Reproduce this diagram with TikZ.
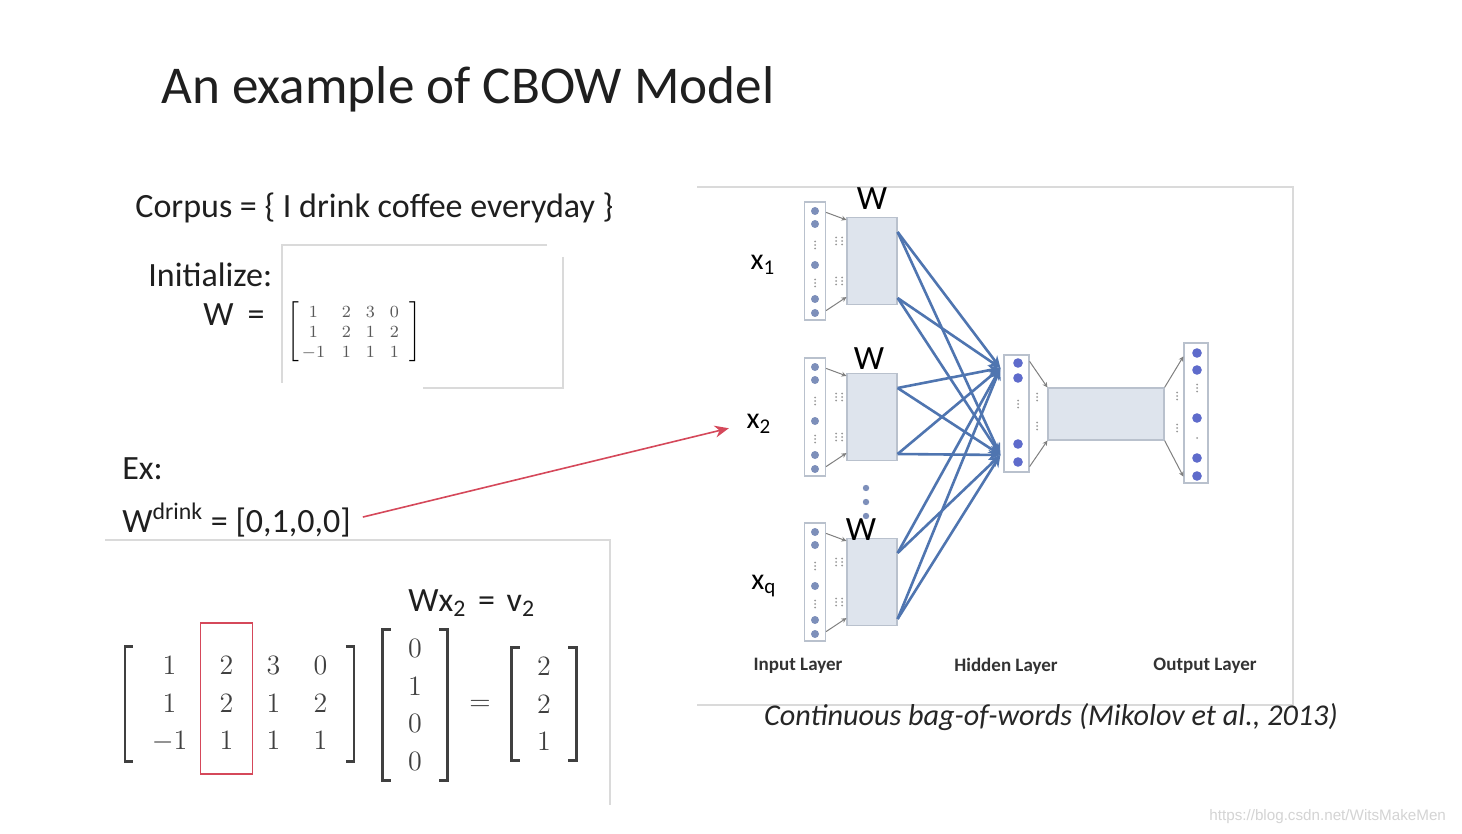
\documentclass[tikz,border=0pt]{standalone}
\usepackage{fix-cm}
\usepackage[no-math]{fontspec}
\setmainfont{Carlito}
\newfontfamily\urlfont{Liberation Sans}
\usetikzlibrary{matrix,fit,arrows.meta,positioning}

\definecolor{netblue}{HTML}{4F75B0}
\definecolor{unitblue}{HTML}{7D8FBA}
\definecolor{boxfill}{HTML}{DEE4ED}
\definecolor{boxline}{HTML}{B9C1CD}
\definecolor{cbowred}{HTML}{D5485A}
\definecolor{framegray}{HTML}{DADADA}

% a short column of dots
\newcommand{\dotcol}[2]{\foreach \d in {-3.5,0,3.5} \fill[black!40] (#1,#2+\d) circle (0.5pt);}
% square brackets round a matrix node: name, left gap, right gap
\newcommand{\matbrackets}[3]{%
  \draw[bracket] ([xshift=-#2+4pt]#1.north west) -| ([xshift=-#2]#1.south west) -- ++(4pt,0);
  \draw[bracket] ([xshift=#3-4pt]#1.north east) -| ([xshift=#3]#1.south east) -- ++(-4pt,0);}

\begin{document}
\begin{tikzpicture}[x=0.5pt, y=-0.5pt,
slidetext/.style={anchor=base west, inner sep=0pt, text=black!88, font=\fontsize{17}{20}\selectfont},
inbox/.style={draw=boxline, fill=white, line width=0.6pt, inner sep=0pt, minimum width=10.5pt, minimum height=59pt},
wbox/.style={draw=boxline, fill=boxfill, line width=0.6pt, inner sep=0pt, minimum width=25pt, minimum height=43.5pt},
fan/.style={draw=black!50, line width=0.5pt, -{Stealth[length=2.5pt,width=2.5pt]}},
link/.style={draw=netblue, line width=1.3pt, -{Stealth[length=6pt,width=5pt]}},
wlabel/.style={font=\fontsize{17}{20}\selectfont, inner sep=0pt},
xlabel/.style={font=\fontsize{15}{18}\selectfont, inner sep=0pt},
layer/.style={font=\bfseries\fontsize{9.5}{11}\selectfont, text=black!80},
frameline/.style={draw=framegray, line width=0.6pt},
bracket/.style={draw=black!75, line width=1.3pt},
numbers/.style={matrix of math nodes, inner sep=0pt,
  nodes={inner sep=0pt, minimum width=23.5pt, minimum height=18.75pt, text=black!75, font=\fontsize{14}{14}\selectfont}},
smallnumbers/.style={matrix of math nodes, inner sep=0pt,
  nodes={inner sep=0pt, minimum width=12pt, minimum height=10pt, text=black!65, font=\fontsize{8.5}{8.5}\selectfont},
  every delimiter/.style={font=\fontsize{8.5}{8.5}\selectfont, text=black!65},
  left delimiter={[}, right delimiter={]}},
]
\fill[white] (0,0) rectangle (1462,834);
\useasboundingbox (0,0) rectangle (1462,834);

%Title and corpus
\node[slidetext, font=\fontsize{26.6}{30}\selectfont] (title) at (161,104) {An example of CBOW Model};
\node[slidetext] (corpus) at (135,218) {Corpus = \{ I drink coffee everyday \}};
\node[slidetext] (init) at (148,287) {Initialize:};
\node[slidetext] (weq) at (203,326) {W\hspace{7pt}=};

%Initial W
\draw[frameline] (547,245) -- (282,245) -- (282,383);
\draw[frameline] (563,257) -- (563,388) -- (423,388);
\matrix (initmat) [smallnumbers] at (354,332) {
1 &[4.5pt] 2 & 3 & 0 \\
1 & 2 & 1 & 2 \\
-1 & 1 & 1 & 1 \\
};

%Example
\node[slidetext] (ex) at (122,479) {Ex:};
\node[slidetext] (wdrink) at (122,532) {W\textsuperscript{drink} = [0,1,0,0]};
\draw[frameline] (105,540) -- (610,540) -- (610,805);

\node[slidetext] (wxv) at (408,611) {Wx\textsubscript{2}\hspace{2pt} = \hspace{2pt}v\textsubscript{2}};
\matrix (bigmat) [numbers] at (245,704) {
1 &[5pt] 2 & 3 & 0 \\
1 & 2 & 1 & 2 \\
-1 & 1 & 1 & 1 \\
};
\matbrackets{bigmat}{10.35pt}{4.75pt}
\node[draw=cbowred, line width=0.8pt, fit=(bigmat-1-2)(bigmat-3-2), inner xsep=1pt, inner ysep=9.5pt, yshift=2.5pt] (pick) {};
\matrix (xvec) [numbers] at (415,705) {
0 \\ 1 \\ 0 \\ 0 \\
};
\matbrackets{xvec}{4.25pt}{4.25pt}
\node[font=\fontsize{14}{14}\selectfont, text=black!75] (eq) at (480,705) {$=$};
\matrix (vvec) [numbers] at (544,704) {
2 \\ 2 \\ 1 \\
};
\matbrackets{vvec}{4.25pt}{4.25pt}

%Network
\draw[frameline] (697,187) -- (1293,187) -- (1293,705);
\draw[frameline] (697,705) -- (1293,705);

\foreach \g/\yc/\lx/\ly in {1/261/872/199, 2/417/869/359, 3/582/861/530} {
  \node[inbox] (in\g) at (815,\yc) {};
  \node[wbox] (w\g) at (872,\yc) {};
  \node[wlabel] (wlab\g) at (\lx,\ly) {W};
  \foreach \dy in {-50,-37,4,38,52} \fill[unitblue] (815,\yc+\dy) circle (2pt);
  \dotcol{815}{\yc-16}
  \dotcol{815}{\yc+22}
  \dotcol{836}{\yc-20}
  \dotcol{842}{\yc-20}
  \dotcol{836}{\yc+20}
  \dotcol{842}{\yc+20}
  \draw[fan] ([yshift=-5.5pt]in\g.north east) -- ([yshift=-1.5pt]w\g.north west);
  \draw[fan] ([yshift=5pt]in\g.south east) -- ([yshift=4pt]w\g.south west);
  \coordinate (w\g t) at ([yshift=14.5pt]w\g.east);
  \coordinate (w\g b) at ([yshift=-18.5pt]w\g.east);
}
\foreach \ey in {488,502,516} \fill[unitblue] (866,\ey) circle (1.6pt);

\node[inbox, minimum width=12.5pt, minimum height=58.5pt] (hid) at (1016.5,413.5) {};
\foreach \hy in {363,378,444,462} \fill[unitblue!75!blue] (1018,\hy) circle (2.4pt);
\dotcol{1018}{404}
\node[wbox, minimum width=58pt, minimum height=26pt] (hrect) at (1106,414) {};
\coordinate (hid t) at ([xshift=-1.5pt,yshift=22.75pt]hid.west);
\coordinate (hid b) at ([xshift=-1.5pt,yshift=-20.75pt]hid.west);
\draw[fan] ([yshift=-3.5pt]hid.north east) -- (hrect.north west);
\draw[fan] ([yshift=3pt]hid.south east) -- (hrect.south west);
\dotcol{1037}{397}
\dotcol{1037}{426}

\node[inbox, minimum width=12pt, minimum height=70pt] (outl) at (1196,413) {};
\draw[fan] (hrect.north east) -- ([yshift=-7pt]outl.north west);
\draw[fan] (hrect.south east) -- ([yshift=3.5pt]outl.south west);
\dotcol{1177}{396}
\dotcol{1177}{428}
\foreach \oy in {353,370,418,458,476} \fill[unitblue!75!blue] (1197,\oy) circle (2.4pt);
\dotcol{1197}{388}
\fill[black!40] (1197,438) circle (0.5pt);

\foreach \g in {1,2,3} {
  \draw[link] (w\g t) -- (hid t);
  \draw[link] (w\g t) -- (hid b);
  \draw[link] (w\g b) -- (hid t);
  \draw[link] (w\g b) -- (hid b);
}

\node[xlabel] (xone) at (763,265) {x\textsubscript{1}};
\node[xlabel] (xtwo) at (759,424) {x\textsubscript{2}};
\node[xlabel] (xq) at (764,586) {x\textsubscript{q}};

\node[layer] (inlayer) at (798,666) {Input Layer};
\node[layer] (hidlayer) at (1006,666) {Hidden Layer};
\node[layer] (outlayer) at (1205,666) {Output Layer};
\node[font=\itshape\fontsize{15.1}{17}\selectfont, text=black!85] (cite) at (1051,717) {Continuous bag-of-words (Mikolov et al., 2013)};

\draw[cbowred, line width=0.8pt, -{Stealth[length=7pt,width=6pt]}, shorten <=6pt, shorten >=9pt] (wdrink.east) -- (xtwo.west);

\node[font=\urlfont\fontsize{7.6}{9}\selectfont, text=black!17, anchor=base east] (mark) at (1453,820) {https://blog.csdn.net/WitsMakeMen};

\end{tikzpicture}
\end{document}
